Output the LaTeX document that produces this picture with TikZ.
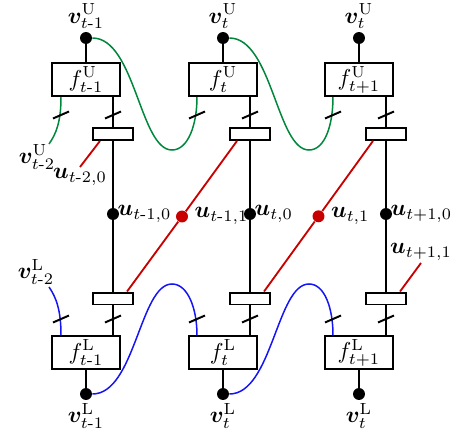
\documentclass[tikz,border=0pt]{standalone}
\usepackage{amsmath,bm}
\usetikzlibrary{calc}
\definecolor{gcol}{RGB}{0,135,60}
\definecolor{rcol}{RGB}{200,0,0}
\definecolor{bcol}{RGB}{20,20,245}
\newcommand{\hy}{\text{-}}
\begin{document}
\begin{tikzpicture}[x=0.435pt,y=-0.435pt,
  fbox/.style={draw,line width=0.85pt,fill=white,minimum width=29.6pt,minimum height=14.4pt,inner sep=0pt},
  sbox/.style={draw,line width=0.85pt,fill=white,minimum width=17.8pt,minimum height=5.2pt,inner sep=0pt},
  bdot/.style={circle,fill=black,inner sep=0pt,minimum size=5.2pt},
  rdot/.style={circle,fill=rcol,inner sep=0pt,minimum size=5.2pt},
  lbl/.style={inner sep=0.5pt},
  wire/.style={line width=0.85pt},
  gwire/.style={gcol,line width=0.65pt},
  bwire/.style={bcol,line width=0.65pt},
  rwire/.style={rcol,line width=0.8pt}]
\useasboundingbox (0,0) rectangle (453,436);
% nodes per column
\foreach \i/\cx/\s/\v in {1/86/t\hy1/t\hy1, 2/223/t/t, 3/359/t+1/t}{
  \node[fbox] (fu\i) at (\cx,79.5) {$f^{\mathrm{U}}_{\s}$};
  \node[fbox] (fl\i) at (\cx,352.5) {$f^{\mathrm{L}}_{\s}$};
  \node[bdot] (du\i) at (\cx,38) {};
  \node[bdot] (dl\i) at (\cx,394) {};
  \node[lbl,anchor=south] (tu\i) at ([yshift=0.5pt]du\i.north) {$\bm{v}^{\mathrm{U}}_{\v}$};
  \node[lbl,anchor=north] (tl\i) at ([yshift=-0.5pt]dl\i.south) {$\bm{v}^{\mathrm{L}}_{\v}$};
  \node[sbox] (ru\i) at (\cx+27,134) {};
  \node[sbox] (rl\i) at (\cx+27,298.5) {};
  \node[bdot] (u\i) at (\cx+27,214) {};
}
\node[rdot] (r1) at (182,216.5) {};
\node[rdot] (r2) at (318.5,216.3) {};
% labels
\node[lbl,anchor=west] (lu1) at (116,214) {$\bm{u}_{t\hy1,0}$};
\node[lbl,anchor=west] (lu2) at (253,214) {$\bm{u}_{t,0}$};
\node[lbl,anchor=west] (lu3) at (389,214) {$\bm{u}_{t+1,0}$};
\node[lbl,anchor=west] (lr1) at (193,216) {$\bm{u}_{t\hy1,1}$};
\node[lbl,anchor=west] (lr2) at (329.5,216) {$\bm{u}_{t,1}$};
\node[lbl] (lua) at (80,177) {$\bm{u}_{t\hy2,0}$};
\node[lbl] (lub) at (421,252) {$\bm{u}_{t+1,1}$};
\node[lbl] (lvu) at (37,157) {$\bm{v}^{\mathrm{U}}_{t\hy2}$};
\node[lbl] (lvl) at (36,272) {$\bm{v}^{\mathrm{L}}_{t\hy2}$};
\coordinate (ea) at (80,167);
\coordinate (eb) at (421,263);
\coordinate (egu) at (49,144);
\coordinate (egl) at (49,287);
% black wires
\foreach \i in {1,2,3}{
  \draw[wire] (du\i) -- (fu\i);
  \draw[wire] (fl\i) -- (dl\i);
  \draw[wire] (fu\i.south -| ru\i) -- (ru\i.north);
  \draw[wire] (ru\i.south) -- (u\i);
  \draw[wire] (u\i) -- (rl\i.north);
  \draw[wire] (rl\i.south) -- (fl\i.north -| rl\i);
}
% red wires
\draw[rwire] ($(ru1.south)+(-13,0)$) -- (ea);
\draw[rwire] ($(rl1.north)+(14,0)$) -- (r1) -- ($(ru2.south)+(-13,0)$);
\draw[rwire] ($(rl2.north)+(14,0)$) -- (r2) -- ($(ru3.south)+(-13,0)$);
\draw[rwire] ($(rl3.north)+(14,0)$) -- (eb);
% green wires
\draw[gwire] ($(fu1.south)+(-25,0)$) .. controls (61,122) and (56,134) .. (egu);
\draw[gwire] (du1.east) .. controls (135,38) and (140,150) .. (172,150)
  .. controls (188,150) and (197,125) .. ($(fu2.south)+(-26,0)$);
\draw[gwire] (du2.east) .. controls (272,38) and (277,150) .. (309,150)
  .. controls (325,150) and (333,125) .. ($(fu3.south)+(-26,0)$);
% blue wires
\draw[bwire] (egl) .. controls (56,297) and (61,310) .. ($(fl1.north)+(-25,0)$);
\draw[bwire] (dl1.east) .. controls (135,394) and (140,284) .. (172,284)
  .. controls (188,284) and (197,309) .. ($(fl2.north)+(-26,0)$);
\draw[bwire] (dl2.east) .. controls (272,394) and (277,284) .. (309,284)
  .. controls (325,284) and (333,309) .. ($(fl3.north)+(-26,0)$);
% slash marks
\foreach \x in {61,113,197,250,333,386}{
  \draw[wire] (\x-8,115+3.5) -- (\x+8,115-3.5);
  \draw[wire] (\x-8,319+3.5) -- (\x+8,319-3.5);
}
\end{tikzpicture}
\end{document}
